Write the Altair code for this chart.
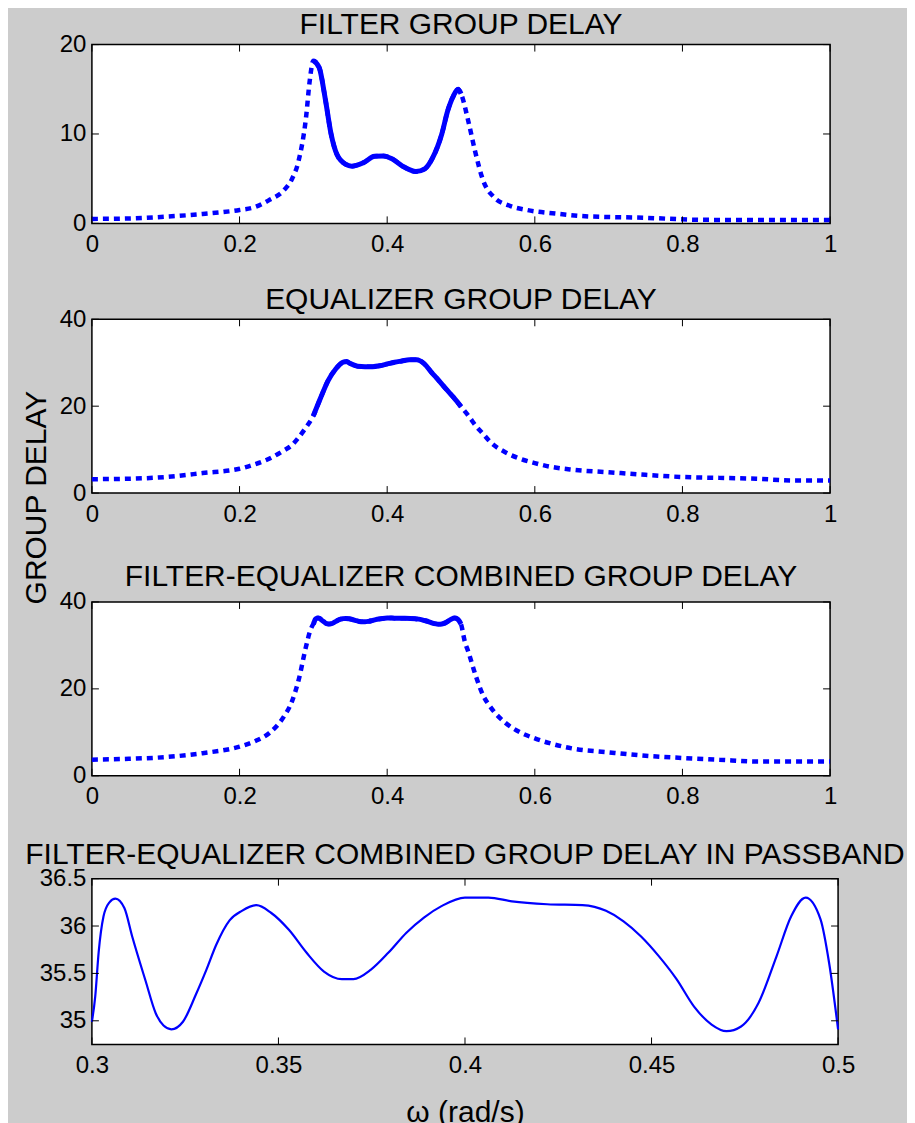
import altair as alt
import pandas as pd

FONT = "Liberation Sans, Arial, Helvetica, sans-serif"
BLUE = "#0000ff"

# ---------- panel 1: filter group delay ----------
filt_x = [0.0, 0.05, 0.1, 0.15, 0.2, 0.22, 0.24, 0.26, 0.27, 0.28, 0.29, 0.295,
          0.3, 0.308, 0.316, 0.324, 0.332, 0.344, 0.352, 0.368, 0.383, 0.395,
          0.407, 0.423, 0.439, 0.451, 0.462, 0.474, 0.482, 0.49, 0.496, 0.5,
          0.51, 0.519, 0.53, 0.545, 0.565, 0.589, 0.628, 0.668, 0.747, 0.826,
          0.9, 1.0]
filt_y = [0.5, 0.55, 0.75, 1.05, 1.5, 1.8, 2.6, 3.7, 4.8, 7.0, 11.8, 15.9,
          18.2, 17.4, 14.0, 10.0, 7.7, 6.6, 6.4, 6.8, 7.5, 7.55,
          7.2, 6.3, 5.8, 6.1, 7.4, 10.0, 12.6, 14.3, 15.0, 14.5,
          11.4, 8.1, 4.8, 2.9, 2.0, 1.5, 1.1, 0.8, 0.63, 0.4,
          0.38, 0.38]

# ---------- panel 2: equalizer group delay ----------
eq_x = [0.0, 0.05, 0.1, 0.15, 0.2, 0.22, 0.24, 0.26, 0.27, 0.28, 0.29, 0.3,
        0.31, 0.32, 0.33, 0.34, 0.345, 0.35, 0.36, 0.37, 0.38, 0.39, 0.4,
        0.41, 0.42, 0.43, 0.44, 0.45, 0.46, 0.47, 0.48, 0.49, 0.5, 0.51,
        0.52, 0.53, 0.54, 0.56, 0.58, 0.6, 0.62, 0.65, 0.7, 0.75, 0.8, 0.85,
        0.9, 0.95, 1.0]
eq_y = [3.2, 3.3, 3.7, 4.6, 5.6, 6.6, 7.9, 9.8, 10.9, 12.8, 15.1, 17.8,
        22.0, 25.9, 28.5, 30.1, 30.3, 29.8, 29.2, 29.1, 29.1, 29.3, 29.7,
        30.1, 30.4, 30.7, 30.7, 29.8, 27.8, 25.9, 23.9, 22.0, 19.9, 17.8,
        15.5, 13.6, 11.7, 9.4, 7.9, 6.9, 6.1, 5.4, 4.8, 4.2, 3.7, 3.5,
        3.3, 2.9, 2.9]

# ---------- passband (panel 4, also used in panel 3) ----------
pb_x = [0.300, 0.3009, 0.3018, 0.3031, 0.3047, 0.3063, 0.3087, 0.3108, 0.3144,
        0.3171, 0.3192, 0.3213, 0.3244, 0.3279, 0.3307, 0.3333, 0.3369, 0.3402,
        0.3441, 0.3480, 0.3528, 0.3575, 0.3622, 0.3670, 0.3701, 0.3748, 0.3795,
        0.3843, 0.3890, 0.3937, 0.4000, 0.4063, 0.4126, 0.4220, 0.4315, 0.4378,
        0.4425, 0.4472, 0.4520, 0.4567, 0.4614, 0.4661, 0.4701, 0.4740, 0.4787,
        0.4835, 0.4874, 0.4913, 0.4953, 0.4976, 0.5000]
pb_y = [34.99, 35.26, 35.72, 36.10, 36.25, 36.29, 36.19, 35.89, 35.42,
        35.08, 34.95, 34.91, 34.99, 35.28, 35.54, 35.80, 36.06, 36.16,
        36.22, 36.14, 35.96, 35.72, 35.52, 35.44, 35.44, 35.54, 35.72,
        35.93, 36.09, 36.21, 36.30, 36.30, 36.26, 36.23, 36.22, 36.16,
        36.05, 35.89, 35.68, 35.44, 35.15, 34.96, 34.89, 34.94, 35.19,
        35.68, 36.10, 36.30, 36.07, 35.61, 34.91]

# ---------- panel 3: combined, outside passband ----------
cl_x = [0.0, 0.05, 0.1, 0.15, 0.2, 0.22, 0.24, 0.26, 0.27, 0.28, 0.29, 0.295]
cl_y = [3.7, 3.9, 4.3, 5.2, 6.7, 7.9, 9.8, 13.6, 16.7, 22.0, 29.7, 33.0]
cr_x = [0.505, 0.51, 0.52, 0.53, 0.54, 0.56, 0.58, 0.6, 0.62, 0.65, 0.7, 0.75,
        0.8, 0.85, 0.9, 0.95, 1.0]
cr_y = [31.0, 28.5, 23.0, 18.5, 15.8, 12.2, 10.0, 8.6, 7.5, 6.3, 5.4, 4.6,
        4.1, 3.7, 3.3, 3.3, 3.3]

# ---------- tick values ----------
full_xticks = [0, 0.2, 0.4, 0.6, 0.8, 1]
pb_xticks = [0.3, 0.35, 0.4, 0.45, 0.5]
yticks_1 = [0, 10, 20]
yticks_2 = [0, 20, 40]
yticks_4 = [35, 35.5, 36, 36.5]

TICK = 7
LABEL_EXPR = "'' + datum.value"


def make_panel(df, xd, yd, xt, yt, W, H, title, toff, xtitle, xtitle_size,
               xtitle_pad, dotted=True, solid_w=5.0):
    x_enc = alt.X("x:Q",
                  scale=alt.Scale(domain=xd, nice=False, zero=False),
                  axis=alt.Axis(values=xt, labelExpr=LABEL_EXPR, labelFontSize=24,
                                labelPadding=9, ticks=False, tickSize=0,
                                domain=False, grid=False, labelFlush=False,
                                title=xtitle, titleFontSize=xtitle_size,
                                titlePadding=xtitle_pad))
    y_enc = alt.Y("y:Q",
                  scale=alt.Scale(domain=yd, nice=False, zero=False),
                  axis=alt.Axis(values=yt, labelExpr=LABEL_EXPR, labelFontSize=24,
                                labelPadding=6, ticks=False, tickSize=0,
                                domain=False, grid=False, labelFlush=False,
                                title=None))
    base = alt.Chart(df)
    layers = []
    if dotted:
        layers.append(base.mark_line(color=BLUE, strokeWidth=4.5,
                                     strokeDash=[6, 5], strokeCap="butt",
                                     interpolate="monotone")
                      .encode(x=x_enc, y=y_enc))
        solid = (base.transform_filter((alt.datum.x >= 0.3) & (alt.datum.x <= 0.5))
                 .mark_line(color=BLUE, strokeWidth=solid_w, interpolate="monotone")
                 .encode(x="x:Q", y="y:Q"))
    else:
        solid = base.mark_line(color=BLUE, strokeWidth=solid_w,
                               interpolate="monotone").encode(x=x_enc, y=y_enc)
    layers.append(solid)

    xtd = pd.DataFrame({"x": xt})
    ytd = pd.DataFrame({"y": yt})
    layers.append(alt.Chart(xtd).mark_rule(color="black", strokeWidth=1)
                  .encode(x="x:Q", y=alt.value(0), y2=alt.value(TICK)))
    layers.append(alt.Chart(xtd).mark_rule(color="black", strokeWidth=1)
                  .encode(x="x:Q", y=alt.value(H - TICK), y2=alt.value(H)))
    layers.append(alt.Chart(ytd).mark_rule(color="black", strokeWidth=1)
                  .encode(y="y:Q", x=alt.value(0), x2=alt.value(TICK)))
    layers.append(alt.Chart(ytd).mark_rule(color="black", strokeWidth=1)
                  .encode(y="y:Q", x=alt.value(W - TICK), x2=alt.value(W)))

    return alt.layer(*layers).properties(
        width=W, height=H,
        title=alt.TitleParams(text=title, fontSize=30, font=FONT,
                              fontWeight="normal", baseline="alphabetic",
                              offset=toff, frame="group", anchor="middle",
                              color="black"))


df1 = pd.DataFrame({"x": filt_x, "y": filt_y})
df2 = pd.DataFrame({"x": eq_x, "y": eq_y})
df3 = pd.DataFrame({"x": cl_x + pb_x + cr_x, "y": cl_y + pb_y + cr_y})
df4 = pd.DataFrame({"x": pb_x, "y": pb_y})

p1 = make_panel(df1, [0, 1], [0, 20], full_xticks, yticks_1, 739, 179,
                "FILTER GROUP DELAY", -31, " ", 1, 25.6)
p2 = make_panel(df2, [0, 1], [0, 40], full_xticks, yticks_2, 739, 174,
                "EQUALIZER GROUP DELAY", -32, " ", 1, 33)
p3 = make_panel(df3, [0, 1], [0, 40], full_xticks, yticks_2, 739, 174,
                "FILTER-EQUALIZER COMBINED GROUP DELAY", -26, " ", 1, 28)
p4 = make_panel(df4, [0.3, 0.5], [34.75, 36.5], pb_xticks, yticks_4, 747, 166,
                "FILTER-EQUALIZER COMBINED GROUP DELAY IN PASSBAND", -27,
                "ω (rad/s)", 30, 20, dotted=False, solid_w=2.2)

chart = alt.vconcat(p1, p2, p3, p4, spacing=0, bounds="full").properties(
    title=alt.TitleParams(text="GROUP DELAY", orient="left", anchor="middle",
                          fontSize=30, font=FONT, fontWeight="normal",
                          baseline="alphabetic", offset=-52, dx=71,
                          color="black"),
    padding={"left": 13, "top": 0, "right": 0, "bottom": 0},
    background="#cccccc",
).configure_view(
    fill="white", stroke="black", strokeWidth=1.5
).configure_axis(
    labelFont=FONT, titleFont=FONT, labelColor="black", titleColor="black",
    titleFontWeight="normal"
).configure_title(font=FONT, color="black", fontWeight="normal")

chart.save("out.html", embed_options={"renderer": "svg", "actions": False})
